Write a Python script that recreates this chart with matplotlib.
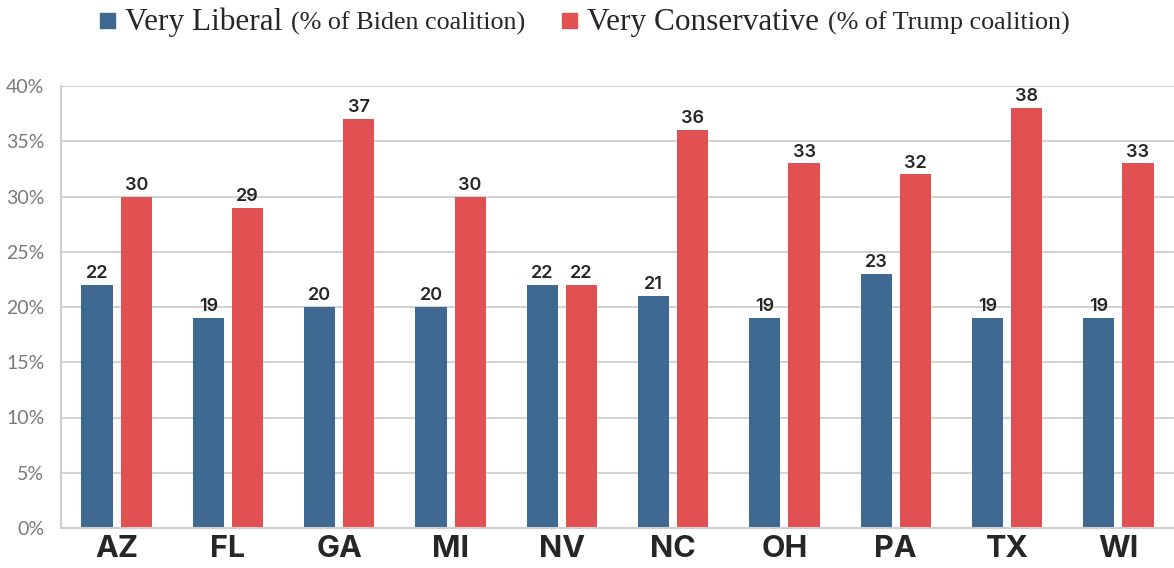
import matplotlib
matplotlib.use("Agg")
import matplotlib.pyplot as plt
import numpy as np
from matplotlib.patches import Rectangle

states = ["AZ", "FL", "GA", "MI", "NV", "NC", "OH", "PA", "TX", "WI"]
very_liberal = [22, 19, 20, 20, 22, 21, 19, 23, 19, 19]
very_conservative = [30, 29, 37, 30, 22, 36, 33, 32, 38, 33]
y_ticks = [0, 5, 10, 15, 20, 25, 30, 35, 40]

BLUE = "#3E6A91"
RED = "#E15151"
GRID = "#D3D3D3"
TEXT = "#262626"

W, H = 1174, 568
fig = plt.figure(figsize=(W / 100, H / 100), dpi=100)
ax = fig.add_axes([61 / W, 40 / H, (W - 61) / W, (528 - 86) / H])

x = np.arange(len(states))
bw = 0.28
off = 0.176
b1 = ax.bar(x - off, very_liberal, bw, color=BLUE, zorder=3)
b2 = ax.bar(x + off, very_conservative, bw, color=RED, zorder=3)

for bars, vals in ((b1, very_liberal), (b2, very_conservative)):
    for r, v in zip(bars, vals):
        ax.text(r.get_x() + r.get_width() / 2, v + 0.25, f"{v}",
                ha="center", va="bottom", fontsize=13, fontweight="semibold",
                family="Inter", color=TEXT, zorder=4)

ax.set_xlim(-0.5, len(states) - 0.5)
ax.set_ylim(0, 40)
ax.set_yticks(y_ticks)
ax.set_yticklabels([f"{t}%" for t in y_ticks], family="Lato", fontsize=14,
                   color="#7A7A7A")
ax.set_xticks(x)
ax.set_xticklabels(states, family="Inter", fontsize=22, fontweight="bold",
                   color=TEXT)
ax.tick_params(axis="y", length=0, pad=12)
ax.tick_params(axis="x", length=0, pad=5)
ax.yaxis.grid(True, color=GRID, linewidth=1.5, zorder=0)
ax.set_axisbelow(True)
for s in ("top", "right"):
    ax.spines[s].set_visible(False)
for s in ("left", "bottom"):
    ax.spines[s].set_color("#CFCFCF")
    ax.spines[s].set_linewidth(1.5)
    ax.spines[s].set_zorder(5)

# Legend row built from a square marker plus serif text runs
renderer = fig.canvas.get_renderer()
BASE = (H - 30) / H


def legend_item(px, color, main, note):
    fig.patches.append(Rectangle((px / W, (H - 28) / H), 15 / W, 15 / H,
                                 transform=fig.transFigure, color=color,
                                 figure=fig))
    t1 = fig.text((px + 25) / W, BASE, main, family="Liberation Serif",
                  fontsize=22.5, color=TEXT, va="baseline")
    bb = t1.get_window_extent(renderer)
    fig.text((bb.x1 + 9) / W, BASE, note, family="Liberation Serif",
             fontsize=18.8, color=TEXT, va="baseline")


legend_item(100, BLUE, "Very Liberal", "(% of Biden coalition)")
legend_item(562, RED, "Very Conservative", "(% of Trump coalition)")

fig.savefig("out.png", dpi=100)
